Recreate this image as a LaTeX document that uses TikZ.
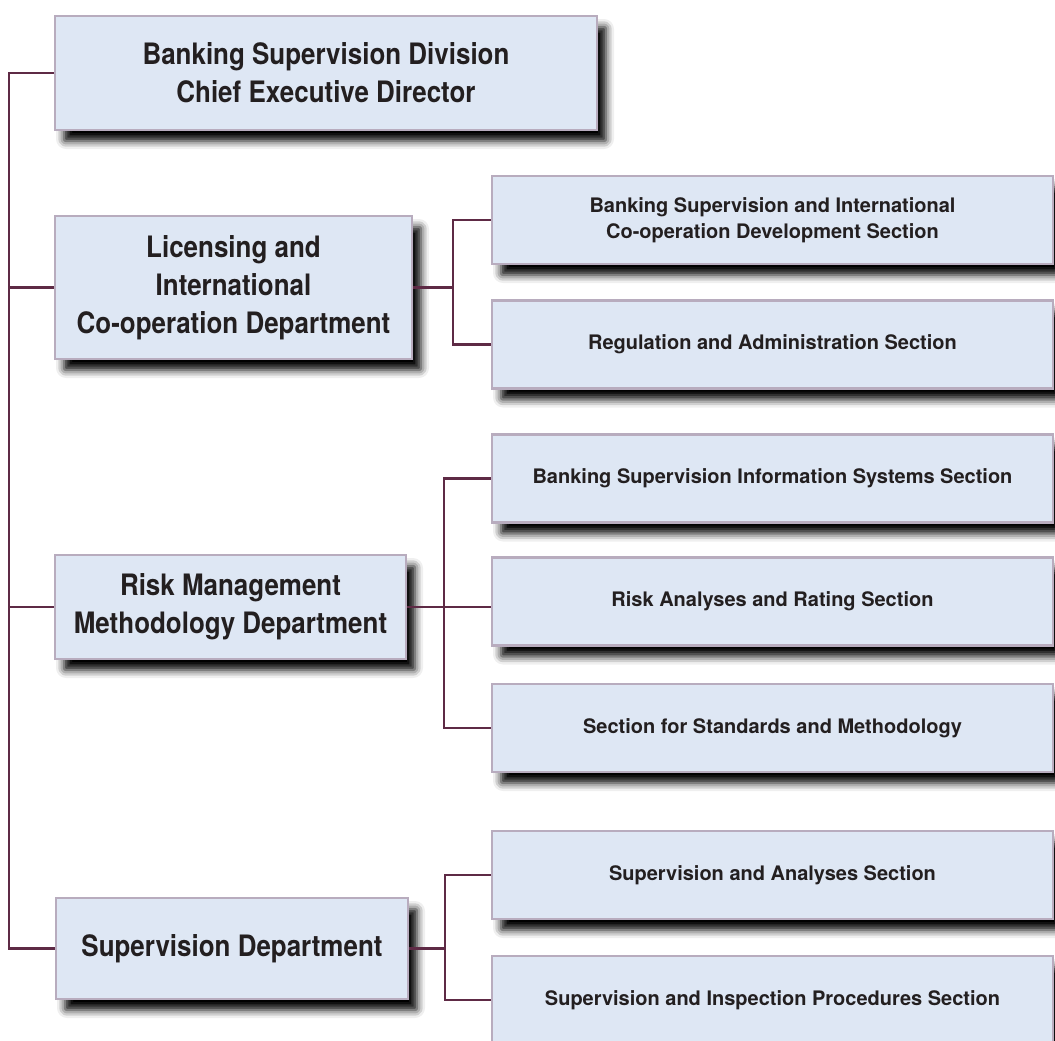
\documentclass[tikz,border=0pt]{standalone}
\usepackage{fontspec}
\setmainfont{TeX Gyre Heros}
\newfontfamily\narrowfont[FakeStretch=0.88]{TeX Gyre Heros}
\usetikzlibrary{calc,positioning,shadows.blur}
\definecolor{boxfill}{RGB}{222,231,244}
\definecolor{boxline}{RGB}{184,172,190}
\definecolor{linkcol}{RGB}{94,42,69}
\definecolor{textcol}{RGB}{35,31,32}

\tikzset{
  orgbox/.style={draw=boxline, line width=2.4pt, fill=boxfill, text=textcol,
    align=center, inner sep=0pt,
    blur shadow={shadow xshift=9pt, shadow yshift=-11pt, shadow blur radius=8pt,
      shadow blur extra rounding=2pt, shadow opacity=100}},
  dept/.style={orgbox, font=\narrowfont\bfseries\fontsize{29.5}{38}\selectfont},
  sect/.style={orgbox, minimum width=561pt, minimum height=88pt,
    font=\bfseries\fontsize{20}{26}\selectfont},
  link/.style={draw=linkcol, line width=2.4pt}
}

\begin{document}
\begin{tikzpicture}[x=1pt, y=1pt]
    \useasboundingbox (0,0) rectangle (1055,-1041);
    \node [dept, minimum width=542pt, minimum height=114pt] (div) at (326,-73)
      {Banking Supervision Division\\Chief Executive Director};
    \node [dept, minimum width=357pt, minimum height=143pt] (lic) at (233.5,-287.5)
      {Licensing and\\International\\Co-operation Department};
    \node [dept, minimum width=351pt, minimum height=104pt] (risk) at (230.5,-607)
      {Risk Management\\Methodology Department};
    \node [dept, minimum width=352pt, minimum height=101pt] (sup) at (232,-948.5)
      {Supervision Department};
    \node [sect] (bsic) at (772.5,-220)
      {Banking Supervision and International\\Co-operation Development Section};
    \node [sect] (reg) at (772.5,-344.5) {Regulation and Administration Section};
    \node [sect] (bsis) at (772.5,-478.5) {Banking Supervision Information Systems Section};
    \node [sect] (rar) at (772.5,-601.5) {Risk Analyses and Rating Section};
    \node [sect] (ssm) at (772.5,-728) {Section for Standards and Methodology};
    \node [sect] (san) at (772.5,-875) {Supervision and Analyses Section};
    \node [sect] (sip) at (772.5,-1000) {Supervision and Inspection Procedures Section};
    \coordinate (bus) at (9,0);
    \coordinate (licbus) at (453,0);
    \coordinate (riskbus) at (444,0);
    \coordinate (supbus) at (445,0);
    \draw [link] (div.west) -| (bus |- sup.west) -- (sup.west);
    \draw [link] (lic.west) -- (lic.west -| bus);
    \draw [link] (risk.west) -- (risk.west -| bus);
    \draw [link] (lic.east) -- (lic.east -| licbus);
    \draw [link] (bsic.west) -| (licbus |- reg.west) -- (reg.west);
    \draw [link] (risk.east) -- (risk.east -| rar.west);
    \draw [link] (bsis.west) -| (riskbus |- ssm.west) -- (ssm.west);
    \draw [link] (sup.east) -- (sup.east -| supbus);
    \draw [link] (san.west) -| (supbus |- sip.west) -- (sip.west);
  \end{tikzpicture}
\end{document}
